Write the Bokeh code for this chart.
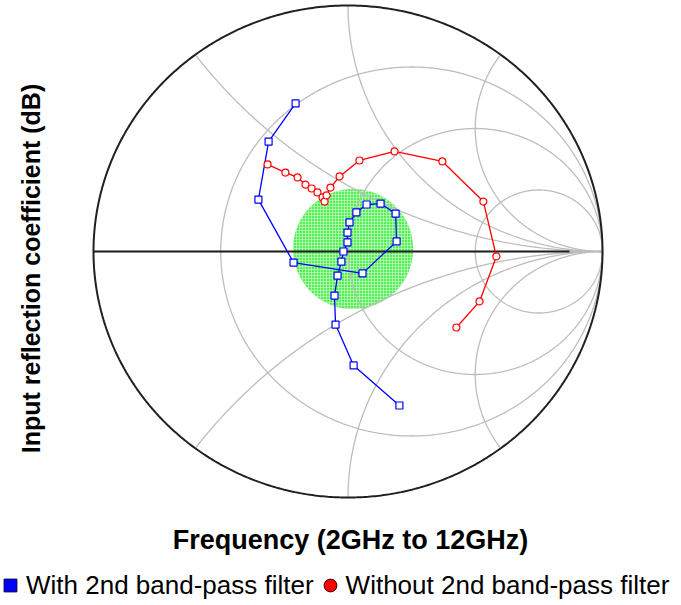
import numpy as np
from bokeh.plotting import figure
from bokeh.models import Label, Legend, LegendItem, Range1d
from bokeh.embed import file_html
from bokeh.resources import INLINE

# ---- Smith chart grid values ----
R_CIRCLES = [1 / 3, 1.0, 3.0]        # constant-resistance circles
X_ARCS = [0.5, 1.0, 2.0]             # constant-reactance arcs (+/-)

# ---- Series: reflection coefficient (real, imag), 2 GHz -> 12 GHz ----
with_re = [0.202, 0.022, -0.049, -0.053, -0.041, -0.026, -0.018, -0.002, -0.002, 0.006,
           0.033, 0.073, 0.128, 0.187, 0.191, 0.057, -0.214, -0.352, -0.312, -0.206]
with_im = [-0.626, -0.463, -0.297, -0.179, -0.098, -0.041, 0.000, 0.037, 0.077, 0.118,
           0.159, 0.191, 0.195, 0.154, 0.041, -0.089, -0.045, 0.211, 0.447, 0.602]

without_re = [-0.316, -0.246, -0.198, -0.167, -0.143, -0.120, -0.100, -0.092, -0.084,
              -0.069, -0.033, 0.045, 0.183, 0.371, 0.532, 0.583, 0.517, 0.426]
without_im = [0.354, 0.321, 0.301, 0.272, 0.256, 0.240, 0.220, 0.203, 0.228,
              0.260, 0.305, 0.370, 0.407, 0.366, 0.203, -0.020, -0.203, -0.309]

# target region (green disc)
DISC_RE, DISC_IM, DISC_R = 0.02, 0.01, 0.236

SERIES_NAMES = ["With 2nd band-pass filter", "Without 2nd band-pass filter"]
X_LABEL = "Frequency (2GHz to 12GHz)"
Y_LABEL = "Input reflection coefficient (dB)"

# ---- layout ----
W, H = 681, 603
CX, CY = 347.5, 251.0      # chart centre in canvas px
RX, RY = 254.5, 246.0      # unit circle radius in px

p = figure(width=W, height=H, title=None,
           x_range=Range1d(-CX / RX, (W - CX) / RX),
           y_range=Range1d(-(H - CY) / RY, CY / RY),
           x_axis_type=None, y_axis_type=None,
           toolbar_location=None, output_backend="svg",
           min_border=0, outline_line_color=None)
p.min_border_left = p.min_border_right = p.min_border_top = p.min_border_bottom = 0
p.background_fill_color = "white"
p.border_fill_color = "white"

# green disc
p.circle(x=[DISC_RE], y=[DISC_IM], radius=DISC_R, fill_color="#55EE55",
         line_color=None, hatch_pattern="+", hatch_color="#D8FFD8",
         hatch_alpha=0.75, hatch_scale=3, hatch_weight=0.8)

# grid
xs, ys = [], []
t = np.linspace(0, 2 * np.pi, 721)
for r in R_CIRCLES:
    c, rad = r / (1 + r), 1 / (1 + r)
    xs.append(c + rad * np.cos(t))
    ys.append(rad * np.sin(t))
rr = np.concatenate([[0.0], np.geomspace(1e-3, 1e4, 800)])
for xv in X_ARCS:
    for s in (1, -1):
        z = rr + 1j * s * xv
        g = (z - 1) / (z + 1)
        xs.append(g.real)
        ys.append(g.imag)
xs.append(np.array([-1.0, 1.0]))
ys.append(np.array([0.0, 0.0]))
p.multi_line(xs=xs, ys=ys, line_color="#BDBDBD", line_width=1.3)

# real axis and outer circle
p.line(x=[-1.0, 0.87], y=[0.0, 0.0], line_color="#202020", line_width=2)
p.line(x=np.cos(t), y=np.sin(t), line_color="#202020", line_width=2)

# data
p.line(with_re, with_im, line_color="#0000FF", line_width=1.3)
p.scatter(with_re, with_im, marker="square", size=7, line_color="#0000FF",
          fill_color="white", line_width=1.2)
p.line(without_re, without_im, line_color="#FF0000", line_width=1.3)
p.scatter(without_re, without_im, marker="circle", size=7, line_color="#FF0000",
          fill_color="white", line_width=1.2)

# legend-only renderers (a single NaN point, so nothing is drawn in the chart)
lg1 = p.scatter(x=[np.nan], y=[np.nan], marker="square", fill_color="#0000FF",
                line_color="#000040")
lg2 = p.scatter(x=[np.nan], y=[np.nan], marker="circle", fill_color="#FF0000",
                line_color="#400000")
legend = Legend(items=[LegendItem(label=SERIES_NAMES[0], renderers=[lg1]),
                       LegendItem(label=SERIES_NAMES[1], renderers=[lg2])],
                orientation="horizontal", location=(-6, 2),
                glyph_width=32, glyph_height=32, label_standoff=0, spacing=0,
                padding=0, margin=0, border_line_color=None,
                background_fill_alpha=0, label_text_font="Liberation Sans",
                label_text_font_size="26px", label_text_color="black",
                label_text_baseline="middle")
p.add_layout(legend)

font = "Liberation Sans"
p.add_layout(Label(x=(30 - CX) / RX, y=(CY - 268) / RY, text=Y_LABEL,
                   angle=np.pi / 2, text_align="center", text_baseline="middle",
                   text_font=font, text_font_style="bold", text_font_size="25px",
                   text_color="black"))
p.add_layout(Label(x=(350 - CX) / RX, y=(CY - 539) / RY, text=X_LABEL,
                   text_align="center", text_baseline="middle",
                   text_font=font, text_font_style="bold", text_font_size="27px",
                   text_color="black"))

open("out.html", "w").write(file_html(p, INLINE))
